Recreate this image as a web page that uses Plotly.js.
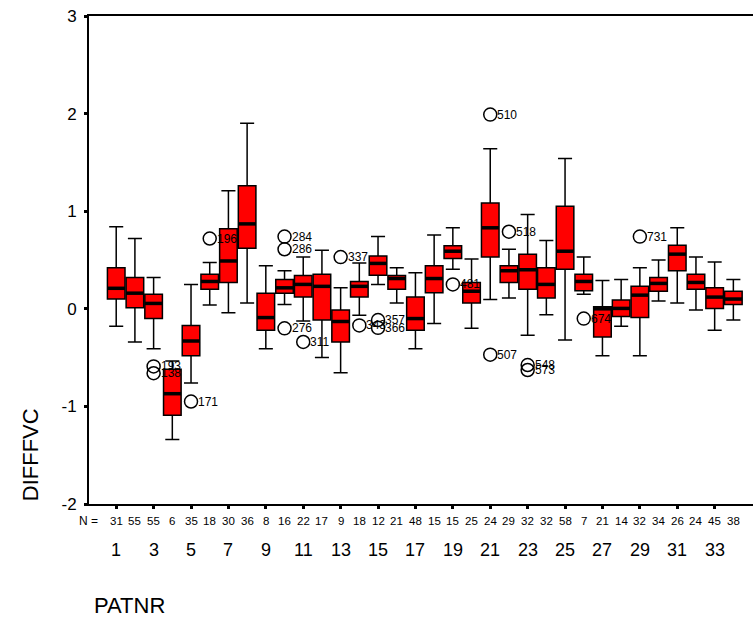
<!DOCTYPE html>
<html>
<head>
<meta charset="utf-8">
<script src="https://cdn.plot.ly/plotly-3.0.1.min.js"></script>
<style>
  html, body { margin: 0; padding: 0; background: #fff; }
  #chart { width: 753px; height: 619px; }
</style>
</head>
<body>
<div id="chart"></div>
<script>
// ---- data ----
const patnr = [1,2,3,4,5,6,7,8,9,10,11,12,13,14,15,16,17,18,19,20,21,22,23,24,25,26,27,28,29,30,31,32,33,34];
const nCounts = [31,55,55,6,35,18,30,36,8,16,22,17,9,18,12,21,48,15,15,25,24,29,32,32,58,7,21,14,32,34,26,24,45,38];
const upperWhisker = [0.84,0.72,0.32,-0.535,0.25,0.475,1.21,1.90,0.44,0.39,0.53,0.60,0.215,0.47,0.74,0.42,0.37,0.755,0.83,0.51,1.64,0.61,0.965,0.70,1.54,0.53,0.29,0.30,0.42,0.50,0.83,0.53,0.48,0.30];
const q3 = [0.42,0.32,0.15,-0.62,-0.17,0.355,0.82,1.26,0.16,0.30,0.34,0.355,-0.013,0.28,0.54,0.34,0.12,0.44,0.645,0.27,1.085,0.44,0.56,0.42,1.05,0.355,0.02,0.09,0.23,0.32,0.65,0.355,0.215,0.18];
const medians = [0.21,0.16,0.055,-0.87,-0.33,0.28,0.49,0.87,-0.09,0.215,0.25,0.23,-0.13,0.23,0.465,0.31,-0.10,0.31,0.59,0.18,0.83,0.39,0.40,0.25,0.59,0.28,0.0,0.004,0.14,0.26,0.56,0.27,0.12,0.10];
const q1 = [0.10,0.01,-0.10,-1.09,-0.48,0.20,0.27,0.62,-0.22,0.16,0.12,-0.115,-0.34,0.12,0.345,0.20,-0.22,0.165,0.515,0.06,0.53,0.27,0.20,0.11,0.405,0.185,-0.29,-0.08,-0.09,0.18,0.39,0.20,0.004,0.045];
const lowerWhisker = [-0.18,-0.34,-0.41,-1.34,-0.76,0.04,-0.04,0.06,-0.41,0.045,-0.125,-0.50,-0.655,-0.065,0.25,0.06,-0.41,-0.15,0.405,-0.20,0.095,0.11,-0.27,-0.06,-0.32,0.15,-0.48,-0.18,-0.48,0.08,0.06,-0.013,-0.22,-0.115];

const outlierPat = [3,3,5,6,10,10,10,11,13,14,15,15,19,21,21,22,23,23,26,29];
const outlierVal = [-0.59,-0.66,-0.95,0.72,0.74,0.61,-0.20,-0.34,0.53,-0.17,-0.115,-0.195,0.25,1.99,-0.47,0.79,-0.576,-0.627,-0.10,0.74];
const outlierLabel = ["193","138","171","196","284","286","276","311","337","343","357","366","481","510","507","518","548","573","674","731"];

const tickCats = [1,3,5,7,9,11,13,15,17,19,21,23,25,27,29,31,33];
const tickText = ["1","3","5","7","9","11","13","15","17","19","21","23","25","27","29","31","33"];
const yTickVals = [-2,-1,0,1,2,3];
const yTickText = ["-2","-1","0","1","2","3"];

const yTitle = "DIFFFVC";
const xTitle = "PATNR";

// ---- style ----
const FONT = "Liberation Sans, Arial, sans-serif";
const BOXW = 0.94;

const boxTrace = {
  type: 'box',
  x: patnr,
  q1: q1,
  median: medians,
  q3: q3,
  lowerfence: lowerWhisker,
  upperfence: upperWhisker,
  boxpoints: false,
  width: BOXW,
  whiskerwidth: 0.8,
  fillcolor: '#ff0000',
  line: {color: '#000000', width: 1.5},
  hoverinfo: 'skip',
  showlegend: false
};

// thick median bars built from the medians
const mx = [], my = [];
patnr.forEach((p, i) => {
  mx.push(p - BOXW / 2, p + BOXW / 2, null);
  my.push(medians[i], medians[i], null);
});
const medianTrace = {
  type: 'scatter', mode: 'lines', x: mx, y: my,
  line: {color: '#000000', width: 3.5},
  hoverinfo: 'skip', showlegend: false
};

const outlierTrace = {
  type: 'scatter', mode: 'markers',
  x: outlierPat, y: outlierVal,
  marker: {symbol: 'circle-open', size: 13, color: '#000000', line: {width: 1.5, color: '#000000'}},
  hoverinfo: 'skip', showlegend: false
};

const annotations = [];
outlierPat.forEach((p, i) => {
  annotations.push({
    x: p, y: outlierVal[i], xref: 'x', yref: 'y',
    text: outlierLabel[i], showarrow: false,
    xanchor: 'left', yanchor: 'middle', xshift: 5,
    font: {family: FONT, size: 12, color: '#000'}
  });
});
patnr.forEach((p, i) => {
  annotations.push({
    x: p, y: 0, xref: 'x', yref: 'paper',
    text: String(nCounts[i]), showarrow: false,
    xanchor: 'center', yanchor: 'middle', yshift: -17,
    font: {family: FONT, size: 11.5, color: '#000'}
  });
});
annotations.push({
  x: 0, y: 0, xref: 'paper', yref: 'paper', text: 'N =', showarrow: false,
  xanchor: 'center', yanchor: 'middle', xshift: -1, yshift: -17,
  font: {family: FONT, size: 12, color: '#000'}
});
tickCats.forEach((c, i) => {
  annotations.push({
    x: c, y: 0, xref: 'x', yref: 'paper',
    text: tickText[i], showarrow: false,
    xanchor: 'center', yanchor: 'middle', yshift: -46,
    font: {family: FONT, size: 18, color: '#000'}
  });
});
annotations.push({
  x: 0, y: 0.1, xref: 'paper', yref: 'paper', text: yTitle, showarrow: false,
  textangle: -90, xanchor: 'center', yanchor: 'middle', xshift: -59,
  font: {family: FONT, size: 22, color: '#000'}
});
annotations.push({
  x: 0, y: 0, xref: 'paper', yref: 'paper', text: xTitle, showarrow: false,
  xanchor: 'center', yanchor: 'middle', xshift: 40, yshift: -101,
  font: {family: FONT, size: 22, color: '#000'}
});

const layout = {
  width: 753, height: 619,
  margin: {l: 89, r: 0, t: 16, b: 115, pad: 0},
  paper_bgcolor: '#ffffff', plot_bgcolor: '#ffffff',
  showlegend: false,
  font: {family: FONT, color: '#000'},
  xaxis: {
    type: 'linear', range: [-0.455, 35.05],
    showline: true, linecolor: '#000', linewidth: 2, mirror: true,
    tickmode: 'array', tickvals: tickCats, ticks: 'outside', ticklen: 3, tickwidth: 3, tickcolor: '#000',
    showticklabels: false, showgrid: false, zeroline: false, fixedrange: true
  },
  yaxis: {
    range: [-2, 3], tickmode: 'array', tickvals: yTickVals, ticktext: yTickText,
    showline: true, linecolor: '#000', linewidth: 2, mirror: false,
    ticks: 'outside', ticklen: 3, tickwidth: 3, tickcolor: '#000',
    tickfont: {family: FONT, size: 17, color: '#000'},
    ticklabelstandoff: 4,
    showgrid: false, zeroline: false, fixedrange: true
  },
  annotations: annotations
};

Plotly.newPlot('chart', [boxTrace, medianTrace, outlierTrace], layout, {staticPlot: true, displayModeBar: false});
</script>
</body>
</html>
